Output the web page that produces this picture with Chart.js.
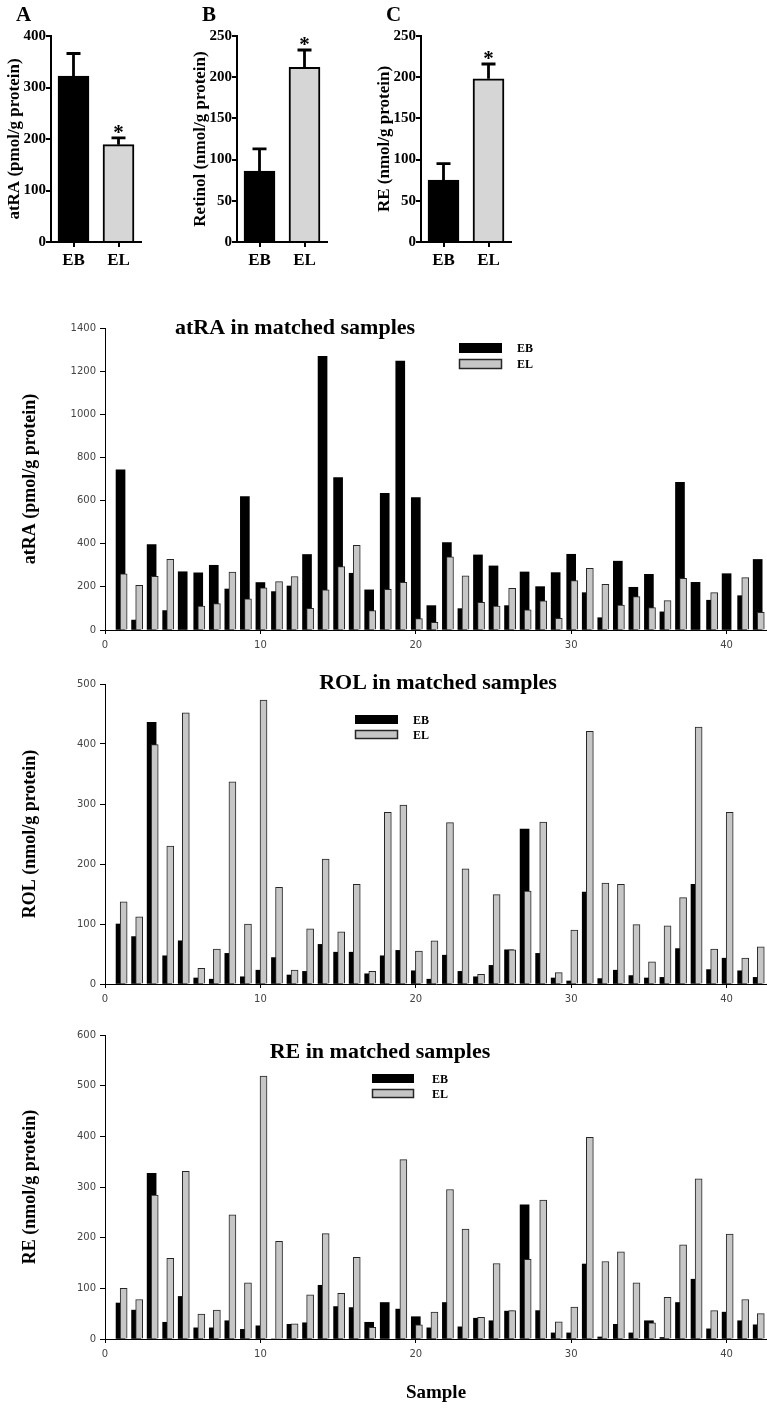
<!DOCTYPE html>
<html><head><meta charset="utf-8">
<script src="https://cdn.jsdelivr.net/npm/chart.js@4.4.1/dist/chart.umd.min.js"></script>
<style>
html,body{margin:0;padding:0;background:#fff;}
body{width:767px;height:1409px;position:relative;overflow:hidden;}
canvas{position:absolute;}
</style></head><body>
<canvas id="cA" width="160" height="280" style="left:0px;top:0px"></canvas>
<canvas id="cB" width="160" height="280" style="left:186px;top:0px"></canvas>
<canvas id="cC" width="160" height="280" style="left:370px;top:0px"></canvas>
<canvas id="cAtra" width="767" height="365" style="left:0px;top:300px"></canvas>
<canvas id="cRol" width="767" height="355" style="left:0px;top:665px"></canvas>
<canvas id="cRe" width="767" height="389" style="left:0px;top:1020px"></canvas>
<script>
// ---------- summary panels (mean + SEM) ----------
const groups = ['EB', 'EL'];
const atraMean = [322, 189];
const atraSem = [44, 13];
const retinolMean = [86, 212];
const retinolSem = [27, 21];
const reMean = [75, 198];
const reSem = [20, 18];
const significant = [false, true];

// ---------- matched samples ----------
const samples = [1,2,3,4,5,6,7,8,9,10,11,12,13,14,15,16,17,18,19,20,21,22,23,24,25,26,27,28,29,30,31,32,33,34,35,36,37,38,39,40,41,42];
const atraEB = [742,46,396,90,270,265,300,190,619,220,178,204,350,1269,707,263,186,633,1247,614,113,405,99,348,297,113,269,201,266,351,173,57,319,198,258,84,685,221,138,261,159,327];
const atraEL = [260,207,249,328,0,111,122,268,144,196,224,248,100,186,294,393,90,189,221,53,36,339,251,128,111,193,93,135,54,229,286,212,116,155,104,136,240,0,173,0,243,82];
const rolEB = [100,79,436,47,72,10,8,51,12,23,44,15,21,66,53,53,17,47,56,22,8,48,21,12,31,57,258,51,10,5,153,9,23,14,10,11,59,166,24,43,22,11];
const rolEL = [137,112,399,230,452,26,58,337,100,473,161,23,92,208,87,166,21,286,298,55,72,269,192,16,149,57,155,270,19,90,421,168,166,99,37,97,144,428,58,286,43,62];
const reEB = [71,57,327,33,84,22,22,36,19,26,0,29,32,106,64,62,33,72,59,44,22,72,24,41,36,55,265,56,12,12,148,4,29,12,36,3,72,118,20,53,36,28];
const reEL = [100,78,284,159,331,49,57,245,111,519,193,30,87,208,90,161,23,0,354,28,53,295,217,43,149,56,157,274,34,63,398,153,172,111,32,82,186,316,56,207,78,50];
const sampleTicks = [0, 10, 20, 30, 40];

// ---------- plugins ----------
const errorBars = {
  id: 'errorBars',
  afterDatasetsDraw(chart, args, opts) {
    const ctx = chart.ctx, y = chart.scales.y;
    const ds = chart.data.datasets[0];
    chart.getDatasetMeta(0).data.forEach((bar, i) => {
      const top = y.getPixelForValue(ds.data[i] + opts.sem[i]);
      ctx.save();
      ctx.strokeStyle = '#000'; ctx.lineWidth = 2.8;
      ctx.beginPath();
      ctx.moveTo(bar.x, bar.y); ctx.lineTo(bar.x, top);
      ctx.moveTo(bar.x - 7, top); ctx.lineTo(bar.x + 7, top);
      ctx.stroke();
      if (opts.stars[i]) {
        ctx.fillStyle = '#000';
        ctx.font = 'bold 21px "Liberation Serif"';
        ctx.textAlign = 'center'; ctx.textBaseline = 'alphabetic';
        ctx.fillText('*', bar.x, top + 1);
      }
      ctx.restore();
    });
  }
};
const panelText = {
  id: 'panelText',
  afterDraw(chart, args, opts) {
    const ctx = chart.ctx;
    (opts.items || []).forEach(t => {
      ctx.save();
      ctx.fillStyle = '#000'; ctx.font = t.font;
      ctx.textAlign = t.align || 'center'; ctx.textBaseline = 'middle';
      ctx.fillText(t.text, t.x, t.y);
      ctx.restore();
    });
  }
};
const boxLegend = {
  id: 'boxLegend',
  afterDraw(chart, args, opts) {
    const ctx = chart.ctx;
    chart.data.datasets.forEach((ds, i) => {
      const y = opts.y + i * opts.gap;
      ctx.save();
      ctx.fillStyle = ds.backgroundColor;
      ctx.fillRect(opts.x, y, opts.w, opts.h);
      if (ds.borderWidth) {
        ctx.strokeStyle = ds.borderColor; ctx.lineWidth = 1.5;
        ctx.strokeRect(opts.x + 0.5, y + 0.5, opts.w - 1, opts.h - 1);
      }
      ctx.fillStyle = '#000';
      ctx.font = 'bold 12px "Liberation Serif"';
      ctx.textAlign = 'left'; ctx.textBaseline = 'middle';
      ctx.fillText(ds.label, opts.textX, y + opts.h / 2 + 1);
      ctx.restore();
    });
  }
};

const serifBold = (s) => ({family: '"Liberation Serif", "Times New Roman", serif', weight: 'bold', size: s});
const plain = v => String(v);

function summaryChart(id, means, sems, yMax, yStep, yTitle, letter) {
  return new Chart(document.getElementById(id), {
    type: 'bar',
    data: { labels: groups, datasets: [{
      label: yTitle, data: means,
      backgroundColor: ['#000000', '#d6d6d6'], borderColor: '#000', borderWidth: 2,
      barThickness: 31
    }]},
    options: {
      responsive: false, animation: false, events: [],
      layout: { padding: { top: 36, right: 19, left: 0, bottom: 0 } },
      scales: {
        x: {
          offset: true,
          grid: { drawOnChartArea: false, drawTicks: true, tickLength: 5, color: '#000', lineWidth: 2, offset: false },
          border: { display: true, color: '#000', width: 2 },
          ticks: { font: serifBold(17), color: '#000', padding: 3 },
          afterFit: s => { s.height = 38; }
        },
        y: {
          min: 0, max: yMax,
          ticks: { stepSize: yStep, font: serifBold(15), color: '#000', padding: 0, callback: plain },
          grid: { drawOnChartArea: false, drawTicks: true, tickLength: 5, color: '#000', lineWidth: 2 },
          border: { display: true, color: '#000', width: 2 },
          title: { display: true, text: yTitle, font: serifBold(17), color: '#000', padding: { top: 4, bottom: 0 } },
          afterFit: s => { s.width = 51; }
        }
      },
      plugins: {
        legend: { display: false }, tooltip: { enabled: false },
        errorBars: { sem: sems, stars: significant },
        panelText: { items: [{ text: letter, x: 16, y: 16, align: 'left', font: 'bold 21px "Liberation Serif"' }] }
      }
    },
    plugins: [errorBars, panelText]
  });
}

function matchedChart(id, eb, el, yMax, yStep, yTitle, cfg) {
  const tickFont = { family: '"DejaVu Sans", Verdana, sans-serif', size: 10 };
  return new Chart(document.getElementById(id), {
    type: 'bar',
    data: { datasets: [
      { label: 'EB', data: samples.map((s, i) => ({ x: s, y: eb[i] })), xAxisID: 'x', grouped: false,
        backgroundColor: '#000000', borderColor: '#000000', borderWidth: 0,
        categoryPercentage: 1, barPercentage: 1, maxBarThickness: 9, order: 1 },
      { label: 'EL', data: samples.map((s, i) => ({ x: s, y: el[i] })), xAxisID: 'x2', grouped: false,
        backgroundColor: '#c6c6c6', borderColor: '#262626', borderWidth: 1, borderSkipped: 'bottom',
        categoryPercentage: 1, barPercentage: 1, maxBarThickness: 7, order: 0 }
    ]},
    options: {
      responsive: false, animation: false, events: [],
      layout: { padding: { top: cfg.top, bottom: 0, left: 0, right: 0 } },
      scales: {
        x: {
          type: 'linear', min: 0, max: 42.6, offset: false,
          afterBuildTicks: s => { s.ticks = sampleTicks.map(v => ({ value: v })); },
          ticks: { font: tickFont, color: '#444', padding: 5, maxRotation: 0, callback: plain },
          grid: { drawOnChartArea: false, drawTicks: true, tickLength: 4, color: '#000', offset: false },
          border: { display: true, color: '#000', width: 1 },
          title: cfg.xTitle ? { display: true, text: cfg.xTitle, font: serifBold(19), color: '#000', padding: { top: 0, bottom: 5 } } : { display: false },
          afterFit: s => { s.height = cfg.xh; }
        },
        x2: { type: 'linear', display: false, min: -0.2, max: 42.4, offset: false },
        y: {
          min: 0, max: yMax,
          ticks: { stepSize: yStep, font: tickFont, color: '#444', padding: 4, callback: plain },
          grid: { drawOnChartArea: false, drawTicks: true, tickLength: 5, color: '#000' },
          border: { display: true, color: '#000', width: 1 },
          title: { display: true, text: yTitle, font: serifBold(18), color: '#000', padding: { top: 20, bottom: 0 } },
          afterFit: s => { s.width = 105; }
        }
      },
      plugins: {
        legend: { display: false }, tooltip: { enabled: false },
        panelText: { items: [{ text: cfg.title, x: cfg.titleX, y: cfg.titleY, font: 'bold 22px "Liberation Serif"' }] },
        boxLegend: cfg.legend
      }
    },
    plugins: [panelText, boxLegend]
  });
}

summaryChart('cA', atraMean, atraSem, 400, 100, 'atRA (pmol/g protein)', 'A');
summaryChart('cB', retinolMean, retinolSem, 250, 50, 'Retinol (nmol/g protein)', 'B');
summaryChart('cC', reMean, reSem, 250, 50, 'RE (nmol/g protein)', 'C');

matchedChart('cAtra', atraEB, atraEL, 1400, 200, 'atRA (pmol/g protein)', {
  top: 28, xh: 35, title: 'atRA in matched samples', titleX: 295, titleY: 28,
  legend: { x: 459, y: 43, gap: 16, w: 43, h: 10, textX: 517 }
});
matchedChart('cRol', rolEB, rolEL, 500, 100, 'ROL (nmol/g protein)', {
  top: 19, xh: 36, title: 'ROL in matched samples', titleX: 438, titleY: 18,
  legend: { x: 355, y: 50, gap: 15, w: 43, h: 9, textX: 413 }
});
matchedChart('cRe', reEB, reEL, 600, 100, 'RE (nmol/g protein)', {
  top: 15, xh: 70, xTitle: 'Sample', title: 'RE in matched samples', titleX: 380, titleY: 32,
  legend: { x: 372, y: 54, gap: 15, w: 42, h: 9, textX: 432 }
});
</script>
</body></html>
